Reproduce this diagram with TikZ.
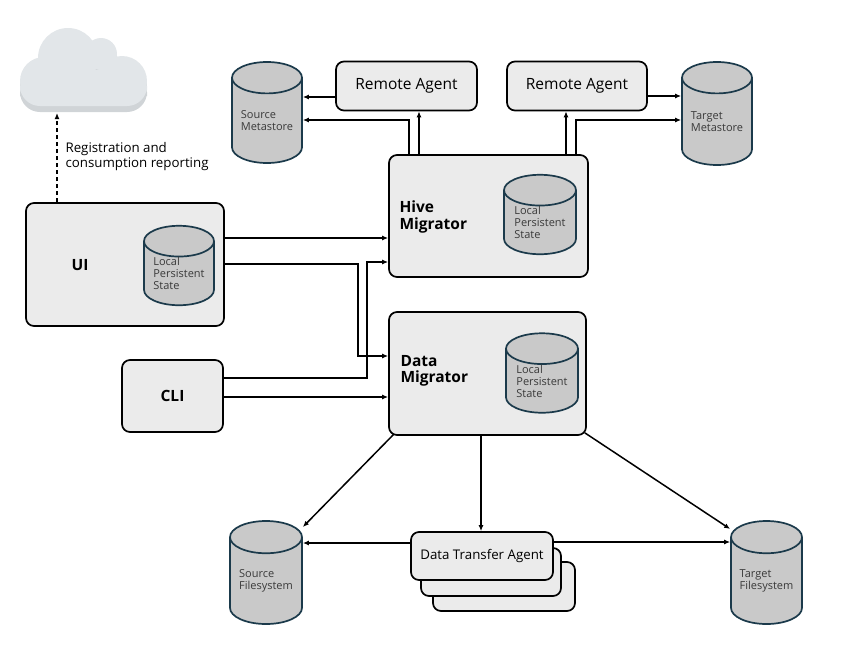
\documentclass[tikz,border=0pt]{standalone}
\usepackage{fontspec}
\setmainfont{Open Sans}
\usetikzlibrary{shapes.geometric,arrows.meta}

\definecolor{boxfill}{HTML}{EBEBEB}
\definecolor{cylfill}{HTML}{C9C9C9}
\definecolor{cylline}{HTML}{1B3A4B}
\definecolor{cloudfill}{HTML}{E2E6E9}
\definecolor{cloudshade}{HTML}{D0D4D7}
\definecolor{softtext}{HTML}{3A3A3A}

\tikzset{
    box/.style={draw=black, line width=1.7pt, fill=boxfill, rounded corners=8pt, inner sep=0pt},
    store/.style={cylinder, shape border rotate=90, aspect=0.6, draw=cylline, line width=1.7pt,
        fill=cylfill, inner sep=0pt, anchor=shape center, align=left, text=softtext,
        font=\fontsize{11}{12}\selectfont},
    link/.style={line width=1.5pt, -{Latex[length=6pt,width=5pt]}},
    title/.style={font=\fontsize{15.5}{16.5}\selectfont\bfseries, align=left},
}

\begin{document}
\begin{tikzpicture}[x=1pt,y=-1pt]
    \useasboundingbox (0,0) rectangle (845,662);

    % Cloud
    \foreach \dy/\col in {-6/cloudshade,0/cloudfill} {
        \begin{scope}[yshift=\dy pt]
            \fill[\col, rounded corners=20pt] (20,106) rectangle (147,70);
            \fill[\col] (68,58) circle (30pt);
            \fill[\col] (101,54) circle (16pt);
            \fill[\col] (122,81) circle (25pt);
            \fill[\col] (44,81) circle (24pt);
        \end{scope}
    }
    \coordinate (cloud) at (57,113);

    % Agents and stores at the top
    \node[box, minimum width=141pt, minimum height=49pt, font=\fontsize{15.5}{17}\selectfont] (ra1) at (406.5,86) {Remote Agent};
    \node[box, minimum width=140pt, minimum height=49pt, font=\fontsize{15.5}{17}\selectfont] (ra2) at (577,86) {Remote Agent};
    \node[store, minimum width=70pt, minimum height=101pt] (sm) at (267,112.5) {Source\\Metastore};
    \node[store, minimum width=70pt, minimum height=103pt] (tm) at (717,113.5) {Target\\Metastore};

    % Migrators
    \node[box, minimum width=199pt, minimum height=122pt] (hive) at (488.5,216) {};
    \node[title, anchor=west] (hivelbl) at (396,217) {Hive\\Migrator};
    \node[store, minimum width=72pt, minimum height=79pt] (hivest) at (540,214.5) {Local\\Persistent\\State};

    \node[box, minimum width=197pt, minimum height=123pt] (dm) at (487.5,373.5) {};
    \node[title, anchor=west] (dmlbl) at (397,371) {Data\\Migrator};
    \node[store, minimum width=72pt, minimum height=76pt] (dmst) at (542,373) {Local\\Persistent\\State};

    % Clients
    \node[box, minimum width=198pt, minimum height=123pt] (ui) at (125,264.5) {};
    \node[title] (uilbl) at (80,265) {UI};
    \node[store, minimum width=70pt, minimum height=77pt] (uist) at (179,265.5) {Local\\Persistent\\State};

    \node[box, minimum width=101pt, minimum height=72pt, title] (cli) at (172.5,396) {CLI};

    % Filesystems and transfer agents
    \node[store, minimum width=72pt, minimum height=103pt] (sf) at (266,572.5) {Source\\Filesystem};
    \node[store, minimum width=71pt, minimum height=103pt] (tf) at (766.5,572.5) {Target\\Filesystem};
    \node[box, minimum width=142pt, minimum height=49pt] (dta3) at (504,586.5) {};
    \node[box, minimum width=140pt, minimum height=48pt] (dta2) at (491,572) {};
    \node[box, minimum width=142pt, minimum height=48pt, font=\fontsize{13.3}{15}\selectfont] (dta) at (482,556) {Data Transfer Agent};

    % Connectors
    \draw[link, dashed, dash pattern=on 4pt off 3pt] (ui.north -| 57,0) -- (cloud);
    \node[anchor=west, align=left, font=\fontsize{13.3}{15}\selectfont] (reglbl) at (62,157) {Registration and\\consumption reporting};

    \draw[link] (ra1.west |- 0,97) -- (sm.east |- 0,97);
    \draw[link] (hive.north -| 409,0) |- (sm.east |- 0,120);
    \draw[link] (hive.north -| 419,0) -- (ra1.south -| 419,0);
    \draw[link] (hive.north -| 566,0) -- (ra2.south -| 566,0);
    \draw[link] (hive.north -| 576,0) |- (tm.west |- 0,120);
    \draw[link] (ra2.east |- 0,96) -- (tm.west |- 0,96);

    \draw[link] (ui.east |- 0,238) -- (hive.west |- 0,238);
    \draw[link] (ui.east |- 0,264) -- (358,264) |- (dm.west |- 0,356);
    \draw[link] (cli.east |- 0,378) -- (367,378) |- (hive.west |- 0,262);
    \draw[link] (cli.east |- 0,397) -- (dm.west |- 0,397);

    \draw[link] ([shift={(6,-2)}]dm.south west) -- (sf.east |- 0,527);
    \draw[link] (dm.south -| 481,0) -- (dta.north -| 481,0);
    \draw[link] ([shift={(-2,-3)}]dm.south east) -- (tf.west |- 0,529);
    \draw[link] (dta.west |- 0,543) -- (sf.east |- 0,543);
    \draw[link] (dta.east |- 0,542) -- (tf.west |- 0,542);
\end{tikzpicture}
\end{document}
